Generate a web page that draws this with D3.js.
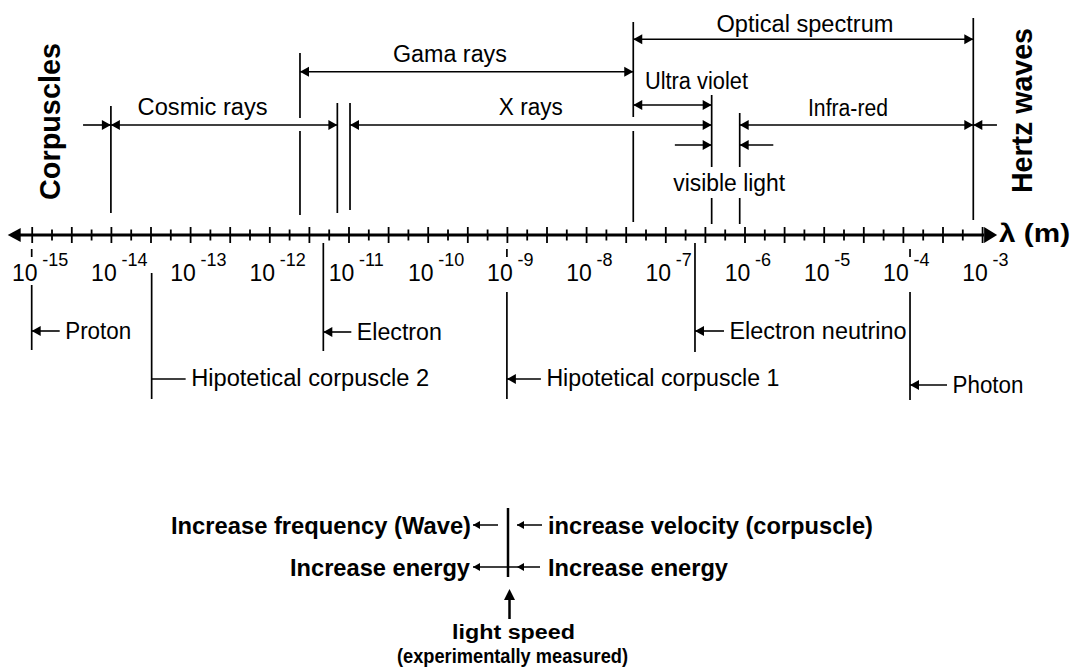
<!DOCTYPE html>
<html>
<head>
<meta charset="utf-8">
<script src="https://cdnjs.cloudflare.com/ajax/libs/d3/7.8.5/d3.min.js"></script>
<style>
  body { margin: 0; background: #fff; }
  svg { display: block; font-family: 'Liberation Sans', Arial, sans-serif; }
</style>
</head>
<body>
<svg width="1073" height="669"></svg>
<script>
// decades printed under the axis (10^e metres)
let decades = d3.range(-15, -2);

// spectrum bands, wavelengths in metres
let bandNames = ['Optical spectrum', 'Gama rays', 'Ultra violet', 'Cosmic rays', 'X rays', 'Infra-red'];
let bandFrom = [3.94e-8, 2.44e-12, 3.94e-8, 1e-14, 1.045e-11, 8.7e-7];
let bandTo = [7.74e-4, 3.94e-8, 3.85e-7, 7.23e-12, 3.85e-7, 7.74e-4];

// short arrows coming from outside the corpuscle / hertz limits
let outerFrom = [4.45e-15, 1.54e-3];
let outerTo = [1e-14, 7.74e-4];

// visible light: arrows from outside pointing at its two limits
let visibleFrom = [1.32e-7, 2.31e-6];
let visibleTo = [3.85e-7, 8.7e-7];

// vertical limit lines of the bands
let limits = [1e-14, 2.44e-12, 7.23e-12, 1.045e-11, 3.94e-8, 3.85e-7, 8.7e-7, 7.74e-4];

// corpuscles and their wavelength
let particles = ['Proton', 'Hipotetical corpuscle 2', 'Electron', 'Hipotetical corpuscle 1', 'Electron neutrino', 'Photon'];
let particleLambda = [1e-15, 3.27e-14, 4.81e-12, 1e-9, 2.37e-7, 1.23e-4];

// ---- layout (pixels) ----
let axisY = 235;

let bandLayout = {
  'Optical spectrum': { y: 39.3, dx: 1.7, base: 31.5, w: 177 },
  'Gama rays': { y: 71.7, dx: -16.7, base: 62, w: 114 },
  'Ultra violet': { y: 105, dx: 24, base: 88.5, w: 103 },
  'Cosmic rays': { y: 125, dx: -21.5, base: 114.7, w: 130 },
  'X rays': { y: 125, dx: 0, base: 114.5, w: 64 },
  'Infra-red': { y: 125, dx: -8.5, base: 115.5, w: 80 },
};
let outerY = 125;
let visibleY = 145;

let limitSegments = [
  [[106, 213]],
  [[53, 118], [131, 215]],
  [[103, 213]],
  [[103, 210]],
  [[22, 117], [131, 222]],
  [[95, 167], [198, 224]],
  [[113, 167], [198, 224]],
  [[18, 220]],
];

let particleLayout = [
  { top: 285, bottom: 350, stub: true, ay: 331, len: 28, head: true, base: 338.5, w: 66 },
  { top: 273, bottom: 399, stub: false, ay: 379, len: 34, head: false, base: 385.5, w: 238 },
  { top: 243, bottom: 351, stub: false, ay: 332, len: 28, head: true, base: 340, w: 85 },
  { top: 292, bottom: 399, stub: true, ay: 379, len: 34, head: true, base: 386, w: 233 },
  { top: 243, bottom: 352, stub: false, ay: 331, len: 29, head: true, base: 339, w: 177 },
  { top: 292, bottom: 400, stub: true, ay: 385, len: 37, head: true, base: 393, w: 71 },
];

let svg = d3.select('svg');

let x = d3.scaleLog().domain([1e-15, 1e-3]).range([31.7, 982.1]);

function head(g, tx, ty, dir, len, half) {
  // dir 1 = points right, -1 = points left
  g.append('path')
    .attr('d', `M${tx},${ty}L${tx - dir * len},${ty - half}L${tx - dir * len},${ty + half}Z`)
    .attr('fill', '#000');
}

function hline(g, x1, x2, y, w) {
  g.append('line')
    .attr('x1', x1).attr('x2', x2)
    .attr('y1', y).attr('y2', y)
    .attr('stroke', '#000')
    .attr('stroke-width', w || 1.6);
}

function vline(g, xx, y1, y2, w) {
  g.append('line')
    .attr('x1', xx).attr('x2', xx)
    .attr('y1', y1).attr('y2', y2)
    .attr('stroke', '#000')
    .attr('stroke-width', w || 1.7);
}

function label(g, str, tx, ty, opt) {
  opt = opt || {};
  let t = g.append('text')
    .attr('x', tx)
    .attr('y', ty)
    .attr('font-size', opt.size || 23)
    .attr('font-weight', opt.bold ? 'bold' : 'normal')
    .attr('text-anchor', opt.anchor || 'start')
    .attr('fill', '#000')
    .text(str);
  if (opt.w) t.attr('textLength', opt.w).attr('lengthAdjust', 'spacingAndGlyphs');
  if (opt.transform) t.attr('transform', opt.transform).attr('x', 0).attr('y', 0);
  return t;
}

// ---- wavelength axis ----
let axisG = svg.append('g');

hline(axisG, x(1e-15) - 19, x(1e-3) + 2, axisY, 3);
head(axisG, x(1e-15) - 24, axisY, -1, 13, 7);
head(axisG, x(1e-3) + 15, axisY, 1, 13, 8);

let majorTicks = d3.range(-15, -2.9, 0.5).map((e) => Math.pow(10, e));
let minorTicks = d3.range(-14.75, -3, 0.5).map((e) => Math.pow(10, e));

let majorAxis = d3.axisBottom(x).tickValues(majorTicks).tickSize(16).tickFormat('');
let minorAxis = d3.axisBottom(x).tickValues(minorTicks).tickSize(11).tickFormat('');

axisG.append('g').attr('transform', `translate(0,${axisY - 8})`).call(majorAxis)
  .call((g) => g.select('.domain').remove())
  .selectAll('line').attr('stroke', '#000').attr('stroke-width', 1.8);
axisG.append('g').attr('transform', `translate(0,${axisY - 5.5})`).call(minorAxis)
  .call((g) => g.select('.domain').remove())
  .selectAll('line').attr('stroke', '#000').attr('stroke-width', 1.8);

decades.forEach((e) => {
  let px = x(Math.pow(10, e));
  label(axisG, '10', px - 7, 281, { anchor: 'middle' });
  label(axisG, String(e), px + 10.5, 266, { size: 18 });
});

label(svg, 'λ (m)', x(1e-3) + 17, 242, { size: 25, bold: true, w: 71 });

// ---- spectrum bands ----
let bandG = svg.append('g');

limits.forEach((v, i) => {
  limitSegments[i].forEach((s) => vline(bandG, x(v), s[0], s[1]));
});

bandNames.forEach((name, i) => {
  let L = bandLayout[name];
  let x1 = x(bandFrom[i]);
  let x2 = x(bandTo[i]);
  hline(bandG, x1, x2, L.y);
  head(bandG, x1, L.y, -1, 9, 5);
  head(bandG, x2, L.y, 1, 9, 5);
  label(bandG, name, (x1 + x2) / 2 + L.dx, L.base, { anchor: 'middle', w: L.w });
});

outerFrom.forEach((v, i) => {
  let x1 = x(v);
  let x2 = x(outerTo[i]);
  hline(bandG, x1, x2, outerY);
  head(bandG, x2, outerY, x2 > x1 ? 1 : -1, 9, 5);
});

visibleFrom.forEach((v, i) => {
  let x1 = x(v);
  let x2 = x(visibleTo[i]);
  hline(bandG, x1, x2, visibleY);
  head(bandG, x2, visibleY, x2 > x1 ? 1 : -1, 9, 5);
});
label(bandG, 'visible light', (x(visibleTo[0]) + x(visibleTo[1])) / 2 + 3.5, 191, { anchor: 'middle', w: 112 });

label(svg, 'Corpuscles', 0, 0, { size: 30, bold: true, anchor: 'middle', w: 157, transform: 'translate(59.5,121.5) rotate(-90)' });
label(svg, 'Hertz waves', 0, 0, { size: 30, bold: true, anchor: 'middle', w: 165, transform: 'translate(1031.5,110.5) rotate(-90)' });

// ---- corpuscles under the axis ----
let partG = svg.append('g');

particles.forEach((name, i) => {
  let L = particleLayout[i];
  let px = x(particleLambda[i]);
  if (L.stub) vline(partG, px, 249, 257);
  vline(partG, px, L.top, L.bottom);
  hline(partG, px, px + L.len, L.ay);
  if (L.head) head(partG, px, L.ay, -1, 9, 5);
  label(partG, name, px + L.len + 5.5, L.base, { w: L.w });
});

// ---- legend ----
let leg = svg.append('g');
let lx = 508;

vline(leg, lx, 508, 577, 2.5);

label(leg, 'Increase frequency (Wave)', 471, 533.5, { size: 24, bold: true, anchor: 'end', w: 300 });
hline(leg, 473, 498, 525, 1.5);
head(leg, 473, 525, -1, 7, 4);
hline(leg, 517, 542, 525, 1.5);
head(leg, 517, 525, -1, 7, 4);
label(leg, 'increase velocity (corpuscle)', 548, 533.5, { size: 24, bold: true, w: 325 });

label(leg, 'Increase energy', 470, 575.5, { size: 24, bold: true, anchor: 'end', w: 180 });
hline(leg, 473, 540, 567, 1.5);
head(leg, 473, 567, -1, 7, 4);
head(leg, 517, 567, -1, 7, 4);
label(leg, 'Increase energy', 548, 575.5, { size: 24, bold: true, w: 180 });

vline(leg, lx + 1.5, 598, 619, 2.5);
leg.append('path')
  .attr('d', `M${lx + 1.5},589L${lx - 4},600L${lx + 7},600Z`)
  .attr('fill', '#000');

label(leg, 'light speed', lx + 5.5, 639, { size: 20, bold: true, anchor: 'middle', w: 123 });
label(leg, '(experimentally measured)', lx + 4.5, 662.5, { size: 20, bold: true, anchor: 'middle', w: 231 });
</script>
</body>
</html>
